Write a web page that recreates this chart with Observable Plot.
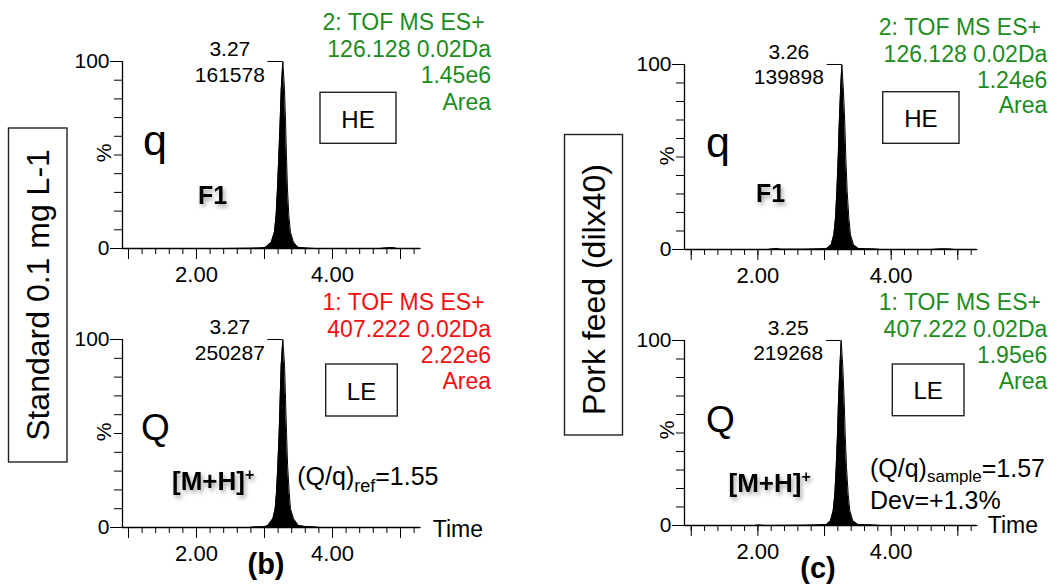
<!DOCTYPE html>
<html><head><meta charset="utf-8">
<script src="https://cdn.jsdelivr.net/npm/d3@7"></script>
<script src="https://cdn.jsdelivr.net/npm/@observablehq/plot@0.6"></script>
<style>
body{margin:0;background:#fff;}
#wrap{position:relative;width:1058px;height:585px;overflow:hidden;background:#fff;font-family:"Liberation Sans",Arial,Helvetica,sans-serif;}
#wrap svg{position:absolute;}
</style></head><body><div id="wrap"></div>
<script>
// ---------- data ----------
// (b) Standard 0.1 mg/L, channel 2 (q, 126.128)
const timeStdQual = [0.92, 1.60, 2.40, 2.80, 2.95, 3.02, 3.10, 3.146, 3.171, 3.191, 3.211, 3.23, 3.246, 3.27, 3.294, 3.31, 3.323, 3.338, 3.358, 3.382, 3.426, 3.49, 3.56, 3.63, 3.75, 4.70, 4.82, 4.88, 4.95, 5.29];
const intStdQual  = [0, 0, 0, 0.1, 0.3, 0.7, 3.4, 8.7, 17.6, 31.9, 49.7, 67.5, 85, 100, 85, 67.5, 49.7, 31.9, 17.6, 8.7, 3.4, 0.7, 0.4, 0.2, 0, 0, 0.4, 0.5, 0, 0];
// (b) Standard, channel 1 (Q, 407.222)
const timeStdQuant = [0.92, 2.0, 2.78, 2.85, 3.0, 3.05, 3.123, 3.157, 3.177, 3.196, 3.216, 3.23, 3.245, 3.27, 3.295, 3.31, 3.324, 3.34, 3.363, 3.383, 3.427, 3.5, 3.6, 3.72, 3.82, 5.29];
const intStdQuant  = [0, 0, 0, 0.3, 0.4, 1.0, 4.6, 9.9, 18.8, 33, 50.7, 68, 86, 100, 86, 68, 50.7, 33, 18.8, 9.9, 4.6, 1.0, 0.5, 0.3, 0, 0];
// (c) Pork feed, channel 2 (q)
const timePorkQual = [0.90, 2.15, 2.22, 2.28, 2.34, 2.70, 2.90, 3.035, 3.10, 3.14, 3.165, 3.185, 3.205, 3.22, 3.24, 3.26, 3.285, 3.305, 3.32, 3.34, 3.365, 3.39, 3.435, 3.51, 3.60, 3.75, 3.84, 4.60, 4.75, 4.85, 4.95, 5.29];
const intPorkQual  = [0, 0, 0.3, 0.6, 0.1, 0.1, 0.3, 0.5, 2.5, 7.9, 16.9, 31.4, 49.3, 67.4, 85.4, 100, 85.4, 67.4, 49.3, 31.4, 16.9, 7.9, 2.5, 0.5, 0.4, 0.2, 0, 0, 0.3, 0.3, 0, 0];
// (c) Pork feed, channel 1 (Q)
const timePorkQuant = [0.90, 1.95, 2.02, 2.10, 2.70, 2.90, 3.03, 3.09, 3.13, 3.155, 3.175, 3.195, 3.21, 3.23, 3.25, 3.275, 3.295, 3.31, 3.33, 3.355, 3.38, 3.425, 3.50, 3.60, 3.72, 3.84, 5.29];
const intPorkQuant  = [0, 0, 0.2, 0, 0.1, 0.3, 0.6, 2.5, 7.9, 16.9, 31.4, 49.3, 67.4, 85.4, 100, 85.4, 67.4, 49.3, 31.4, 16.9, 7.9, 2.5, 0.6, 0.4, 0.2, 0, 0];

const peakTimes  = [3.27, 3.27, 3.26, 3.25];
const peakCounts = [161578, 250287, 139898, 219268];
const channelNames  = ["2: TOF MS ES+", "1: TOF MS ES+", "2: TOF MS ES+", "1: TOF MS ES+"];
const channelMasses = ["126.128 0.02Da", "407.222 0.02Da", "126.128 0.02Da", "407.222 0.02Da"];
const channelAreas  = ["1.45e6", "2.22e6", "1.24e6", "1.95e6"];
const energyLabels  = ["HE", "LE", "HE", "LE"];
const ionLabels     = ["q", "Q", "q", "Q"];
const xTickLabels = [2, 4];
const yTickLabels = [0, 100];
const sampleLabels = ["Standard 0.1 mg L-1", "Pork feed (dilx40)"];
const panelLetters = ["(b)", "(c)"];
const ratioStd = "1.55", ratioSample = "1.57", deviation = "+1.3%";

// ---------- layout ----------
const FONT = '"Liberation Sans", Arial, Helvetica, sans-serif';
const GREEN = "#1c8c1c", RED = "#f21010";
const frames = [
  {left: 122, right: 420, top: 61, bottom: 248, xDomain: [0.912, 5.294]},
  {left: 122, right: 420, top: 339.3, bottom: 527.3, xDomain: [0.912, 5.294]},
  {left: 684.3, right: 976.7, top: 64.3, bottom: 249.3, xDomain: [0.899, 5.286]},
  {left: 684.3, right: 976.7, top: 340, bottom: 525, xDomain: [0.899, 5.286]}
];
const series = [
  [timeStdQual, intStdQual], [timeStdQuant, intStdQuant],
  [timePorkQual, intPorkQual], [timePorkQuant, intPorkQuant]
];

const wrap = document.getElementById("wrap");
const mL = 70, mR = 12, mT = 45, mB = 45;

series.forEach(([times, ints], i) => {
  const f = frames[i];
  const data = times.map((t, k) => ({t, v: ints[k]}));
  const peak = [{t: peakTimes[i], v: 100, c: peakCounts[i]}];
  const plot = Plot.plot({
    width: f.right - f.left + mL + mR,
    height: f.bottom - f.top + mT + mB,
    marginLeft: mL, marginRight: mR, marginTop: mT, marginBottom: mB,
    x: {domain: f.xDomain},
    y: {domain: [0, 100]},
    style: {background: "transparent", overflow: "visible", fontFamily: FONT, color: "#000"},
    marks: [
      Plot.areaY(data, {x: "t", y: "v", fill: "#000"}),
      Plot.lineY(data, {x: "t", y: "v", stroke: "#000", strokeWidth: 1}),
      Plot.ruleY([0], {stroke: "#000", strokeWidth: 1.3}),
      Plot.ruleX([f.xDomain[0]], {stroke: "#000", strokeWidth: 1.3}),
      Plot.axisX({ticks: d3.range(1, 5.3, 0.2), tickSize: 6, tickFormat: () => "", label: null}),
      Plot.axisX({ticks: [1, 2, 3, 4, 5], tickSize: 11, tickFormat: () => "", label: null}),
      Plot.axisX({ticks: xTickLabels, tickSize: 0, tickPadding: 18, tickFormat: d3.format(".2f"), fontSize: 22, label: null}),
      Plot.axisY({ticks: d3.range(0, 101, 10), tickSize: 8, tickFormat: () => "", label: null}),
      Plot.axisY({ticks: yTickLabels, tickSize: 12, tickPadding: 1, fontSize: 21, label: null}),
      Plot.ruleY(peak, {y: "v", x1: d => d.t - 0.22, x2: "t", stroke: "#000", strokeWidth: 1}),
      Plot.text(peak, {x: "t", y: "v", text: d => `${d.t.toFixed(2)}\n${d.c}`, textAnchor: "middle",
        dx: -53, dy: -1, lineAnchor: "middle", lineHeight: 1.22, fontSize: 21, fill: "#000"})
    ]
  });
  plot.style.left = (f.left - mL) + "px";
  plot.style.top = (f.top - mT) + "px";
  wrap.appendChild(plot);
});

// ---------- annotations overlay ----------
const ov = d3.select(wrap).append("svg")
  .attr("width", 1058).attr("height", 585)
  .style("left", "0px").style("top", "0px")
  .style("font-family", FONT).style("pointer-events", "none");

function txt(x, y, s, o = {}) {
  const t = ov.append("text").attr("x", x).attr("y", y)
    .attr("font-size", o.size || 22).attr("fill", o.fill || "#000")
    .attr("text-anchor", o.anchor || "start")
    .attr("font-weight", o.bold ? "bold" : null)
    .text(s);
  if (o.rotate) t.attr("x", 0).attr("y", 0).attr("dy", "0.35em")
    .attr("transform", `translate(${x},${y}) rotate(-90)`);
  if (o.shadow) t.style("filter", "drop-shadow(2px 3px 2px rgba(0,0,0,0.35))");
  return t;
}
function box(x, y, w, h) {
  ov.append("rect").attr("x", x).attr("y", y).attr("width", w).attr("height", h)
    .attr("fill", "none").attr("stroke", "#222").attr("stroke-width", 1.4);
}
// channel descriptions
const descRight = [491, 491, 1047.3, 1047.3];
const descBase = [[30, 56.7, 83.3, 110], [310, 336.7, 362.7, 389.3], [35, 61.7, 88.3, 113.3], [310, 336.7, 362.7, 389.3]];
const descColor = [GREEN, RED, GREEN, GREEN];
for (let i = 0; i < 4; i++) {
  const lines = [channelNames[i] + "\u00a0", channelMasses[i], channelAreas[i], "Area"];
  lines.forEach((s, k) => txt(descRight[i], descBase[i][k], s, {size: 23, fill: descColor[i], anchor: "end"}));
}
// energy boxes
const eBox = [[320, 92.3, 76, 51, 128.3], [325.7, 364, 71.6, 52, 400], [882.7, 91.7, 76.3, 51.6, 126.7], [892.3, 364, 71.7, 51.7, 399.3]];
eBox.forEach(([x, y, w, h, b], i) => { box(x, y, w, h); txt(x + w / 2, b, energyLabels[i], {size: 24, anchor: "middle"}); });
// ion letters
txt(143, 155, ionLabels[0], {size: 43});
txt(141, 440, ionLabels[1], {size: 37});
txt(706, 156.7, ionLabels[2], {size: 43});
txt(706, 431.7, ionLabels[3], {size: 37});
// fragment labels
txt(198, 204, "F1", {size: 25, bold: true, shadow: true});
txt(756, 202.3, "F1", {size: 25, bold: true, shadow: true});
function mh(x, y) {
  const t = txt(x, y, "[M+H]", {size: 26, bold: true, shadow: true});
  t.append("tspan").attr("font-size", 16).attr("dy", -10).text("+");
}
mh(172, 490); mh(728.5, 491.7);
// percent labels
[[104, 153], [104, 432], [666.7, 156], [666.7, 430]].forEach(([x, y]) => txt(x, y, "%", {size: 21, anchor: "middle", rotate: true}));
// Time labels
txt(432.7, 536.7, "Time", {size: 23});
txt(987.7, 533.3, "Time", {size: 23});
// ratios
{
  const t = txt(297.3, 485, "(Q/q)", {size: 25});
  t.append("tspan").attr("font-size", 18).attr("dy", 6.5).text("ref");
  t.append("tspan").attr("dy", -6.5).text("=" + ratioStd);
  const s = txt(870, 476.7, "(Q/q)", {size: 25});
  s.append("tspan").attr("font-size", 17).attr("dy", 5).text("sample");
  s.append("tspan").attr("dy", -5).text("=" + ratioSample);
  txt(870, 509, "Dev=" + deviation, {size: 25});
}
// panel letters
txt(266, 574, panelLetters[0], {size: 29, bold: true, anchor: "middle"});
txt(818, 578, panelLetters[1], {size: 29, bold: true, anchor: "middle"});
// sample boxes
box(8.5, 128, 58.5, 334);
txt(38, 295, sampleLabels[0], {size: 32, anchor: "middle", rotate: true});
box(564.5, 134.5, 58, 300.5);
txt(593.5, 289.5, sampleLabels[1], {size: 32, anchor: "middle", rotate: true});
</script></body></html>
